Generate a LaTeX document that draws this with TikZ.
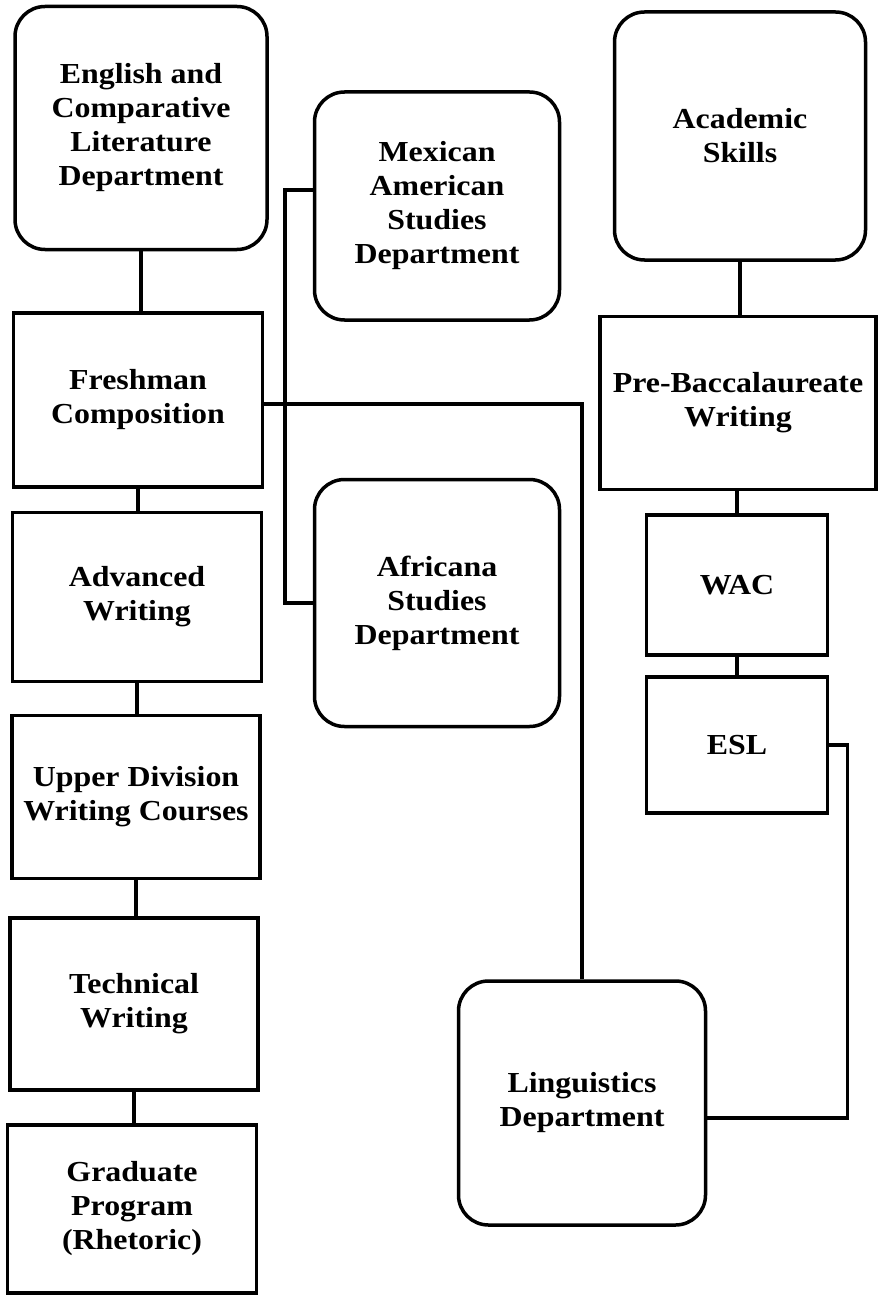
\documentclass[tikz,border=0pt]{standalone}
\usepackage{fontspec}
\setmainfont{Liberation Serif}[FakeStretch=1.1]

\begin{document}
\begin{tikzpicture}[x=1pt, y=-1pt, line width=3.5pt, font=\fontsize{29}{34}\selectfont\bfseries]
            \useasboundingbox (0,0) rectangle (878,1297);

            \tikzstyle{myBox}=[draw, align=center, inner sep=0pt];
            \tikzstyle{myRound}=[myBox, rounded corners=30pt];

            % left column
            \node[myRound, minimum width=252pt, minimum height=243pt] (english) at (141,128) {English and\\Comparative\\Literature\\Department};
            \node[myBox, minimum width=249pt, minimum height=174pt] (freshman) at (138,400) {Freshman\\Composition};
            \node[myBox, minimum width=249pt, minimum height=169pt] (advanced) at (137,597) {Advanced\\Writing};
            \node[myBox, minimum width=248pt, minimum height=163pt] (upper) at (136,797) {Upper Division\\Writing Courses};
            \node[myBox, minimum width=248pt, minimum height=172pt] (technical) at (134,1004) {Technical\\Writing};
            \node[myBox, minimum width=249pt, minimum height=168pt] (graduate) at (132,1209) {Graduate\\Program\\(Rhetoric)};

            % middle column
            \node[myRound, minimum width=245pt, minimum height=228pt] (mexican) at (437,206) {Mexican\\American\\Studies\\Department};
            \node[myRound, minimum width=245pt, minimum height=247pt] (africana) at (437,603) {Africana\\Studies\\Department};
            \node[myRound, minimum width=247pt, minimum height=244pt] (linguistics) at (582,1103) {Linguistics\\Department};

            % right column
            \node[myRound, minimum width=251pt, minimum height=248pt] (academic) at (740,136) {Academic\\Skills};
            \node[myBox, minimum width=276pt, minimum height=173pt] (prebacc) at (738,403) {Pre-Baccalaureate\\Writing};
            \node[myBox, minimum width=181pt, minimum height=140pt] (wac) at (737,585) {WAC};
            \node[myBox, minimum width=181pt, minimum height=136pt] (esl) at (737,745) {ESL};

            \draw (english.south) -- (english.south |- freshman.north);
            \draw (freshman.south) -- (freshman.south |- advanced.north);
            \draw (advanced.south) -- (advanced.south |- upper.north);
            \draw (upper.south) -- (upper.south |- technical.north);
            \draw (technical.south) -- (technical.south |- graduate.north);

            \draw (academic.south) -- (academic.south |- prebacc.north);
            \draw (wac.north |- prebacc.south) -- (wac.north);
            \draw (wac.south) -- (esl.north);

            \draw ([yshift=16pt]mexican.west) -- ++(-28,0) |- (africana.west);
            \draw ([yshift=-4pt]freshman.east) -| (linguistics.north);
            \draw (esl.east) -- ++(18,0) |- ([yshift=-15pt]linguistics.east);
\end{tikzpicture}
\end{document}
